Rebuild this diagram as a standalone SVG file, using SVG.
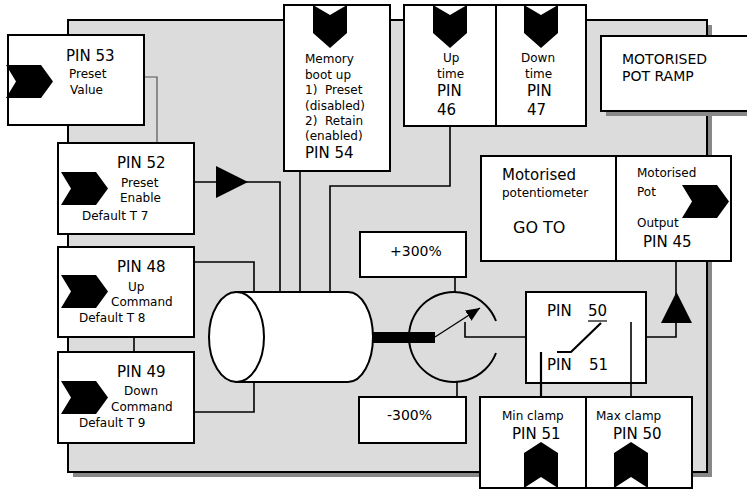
<svg xmlns="http://www.w3.org/2000/svg" width="747" height="489" viewBox="0 0 747 489">
<defs>
<style>
.bx{fill:#fff;stroke:#000;stroke-width:2}
.ln{fill:none;stroke:#000;stroke-width:1.6}
.s{font-family:"DejaVu Sans",Verdana,sans-serif;font-size:12px;fill:#000}
.b{font-family:"DejaVu Sans",Verdana,sans-serif;font-size:15px;fill:#000}
.m{font-family:"DejaVu Sans",Verdana,sans-serif;font-size:14px;fill:#000}
</style>
<path id="chR" d="M0,0 H35 L47,16.5 L35,33 H0 L10,16.5 Z" fill="#000"/>
<path id="chD" d="M0,0 L17,10 L34,0 V28 L17,43 L0,28 Z" fill="#000"/>
<path id="chU" d="M0,11 L17,0 L34,11 V46 L17,35 L0,46 Z" fill="#000"/>
<marker id="ah" viewBox="0 0 10 10" refX="10" refY="5" markerWidth="14" markerHeight="12" markerUnits="userSpaceOnUse" orient="auto" preserveAspectRatio="none">
<path d="M0,0 L10,5 L0,10 Z" fill="#000"/>
</marker>
</defs>

<g id="panel">
<rect x="73" y="25" width="639" height="452" fill="#888"/>
<rect x="68" y="20" width="639" height="452" fill="#dcdcdc" stroke="#000" stroke-width="2"/>
</g>

<g id="cylinder">
<path d="M236,292 H348 A25,45 0 0,1 348,382 H236 Z" fill="#fff" stroke="#000" stroke-width="2"/>
<ellipse cx="236.5" cy="337" rx="27.5" ry="45" fill="#fff" stroke="#000" stroke-width="2"/>
</g>

<g id="dial">
<path d="M496,321 A45,45 0 1,0 496,353" fill="none" stroke="#000" stroke-width="2"/>
</g>

<g id="pin53">
<rect class="bx" x="8" y="35" width="136" height="90"/>
<use href="#chR" x="6" y="65"/>
<text class="b" x="66" y="61">PIN 53</text>
<text class="s" x="69" y="78">Preset</text>
<text class="s" x="70" y="94">Value</text>
</g>

<g id="pin52">
<rect class="bx" x="58" y="143" width="136" height="91"/>
<use href="#chR" x="61" y="172"/>
<text class="b" x="117" y="168">PIN 52</text>
<text class="s" x="121" y="187">Preset</text>
<text class="s" x="120" y="202">Enable</text>
<text class="s" x="82" y="220">Default T 7</text>
</g>

<g id="pin48">
<rect class="bx" x="58" y="247" width="136" height="90"/>
<use href="#chR" x="61" y="275"/>
<text class="b" x="117" y="272">PIN 48</text>
<text class="s" x="128" y="291">Up</text>
<text class="s" x="111" y="306">Command</text>
<text class="s" x="79" y="322">Default T 8</text>
</g>

<g id="pin49">
<rect class="bx" x="58" y="352" width="136" height="91"/>
<use href="#chR" x="61" y="381"/>
<text class="b" x="117" y="377">PIN 49</text>
<text class="s" x="124" y="395">Down</text>
<text class="s" x="111" y="411">Command</text>
<text class="s" x="79" y="427">Default T 9</text>
</g>

<g id="memory">
<rect class="bx" x="284" y="5" width="106" height="166"/>
<use href="#chD" x="313" y="5"/>
<text class="s" x="305" y="63">Memory</text>
<text class="s" x="305" y="79">boot up</text>
<text class="s" x="305" y="94" xml:space="preserve">1)  Preset</text>
<text class="s" x="305" y="110">(disabled)</text>
<text class="s" x="305" y="125" xml:space="preserve">2)  Retain</text>
<text class="s" x="305" y="140">(enabled)</text>
<text class="b" x="305" y="158">PIN 54</text>
</g>

<g id="uptime">
<rect class="bx" x="404" y="5" width="92" height="121"/>
<use href="#chD" x="433" y="5"/>
<text class="s" x="443" y="62">Up</text>
<text class="s" x="437" y="78">time</text>
<text class="b" x="437" y="96">PIN</text>
<text class="b" x="437" y="115">46</text>
</g>

<g id="downtime">
<rect class="bx" x="496" y="5" width="90" height="121"/>
<use href="#chD" x="524" y="5"/>
<text class="s" x="521" y="62">Down</text>
<text class="s" x="525" y="78">time</text>
<text class="b" x="527" y="96">PIN</text>
<text class="b" x="527" y="115">47</text>
</g>

<g id="title">
<rect x="606" y="41" width="150" height="75" fill="#888"/>
<rect class="bx" x="601" y="36" width="150" height="75"/>
<text class="m" x="622" y="64">MOTORISED</text>
<text class="m" x="622" y="81">POT RAMP</text>
</g>

<g id="goto">
<rect class="bx" x="481" y="156" width="135" height="105"/>
<text class="b" x="502" y="180">Motorised</text>
<text class="s" x="502" y="197">potentiometer</text>
<text class="b" x="513" y="233" style="font-size:16px">GO TO</text>
</g>

<g id="output">
<rect class="bx" x="616" y="156" width="115" height="105"/>
<text class="s" x="637" y="177">Motorised</text>
<text class="s" x="637" y="196">Pot</text>
<use href="#chR" x="682" y="185"/>
<text class="s" x="637" y="227">Output</text>
<text class="b" x="643" y="247">PIN 45</text>
</g>

<g id="plus300">
<rect class="bx" x="360" y="232" width="106" height="45"/>
<text class="m" x="390" y="256">+300%</text>
</g>

<g id="minus300">
<rect class="bx" x="359" y="397" width="107" height="46"/>
<text class="m" x="387" y="420">-300%</text>
</g>

<g id="clampsel">
<rect class="bx" x="526" y="292" width="120" height="91"/>
<text class="b" x="547" y="316">PIN</text>
<text class="b" x="588" y="316">50</text>
<line x1="588" y1="321" x2="607" y2="321" stroke="#000" stroke-width="1.2"/>
<text class="b" x="547" y="370">PIN</text>
<text class="b" x="589" y="370">51</text>
</g>

<g id="minclamp">
<rect class="bx" x="480" y="397" width="106" height="91"/>
<text class="s" x="502" y="420">Min clamp</text>
<text class="b" x="512" y="439">PIN 51</text>
<use href="#chU" x="524" y="442"/>
</g>

<g id="maxclamp">
<rect class="bx" x="586" y="397" width="106" height="91"/>
<text class="s" x="596" y="420">Max clamp</text>
<text class="b" x="613" y="439">PIN 50</text>
<use href="#chU" x="614" y="442"/>
</g>

<g id="connectors">
<path d="M145,77 H157 V142" fill="none" stroke="#555" stroke-width="1.2"/>
<path class="ln" d="M195,182 H280 V292"/>
<polygon points="216,166 248,182 216,198" fill="#000"/>
<path class="ln" d="M300,172 V292"/>
<path class="ln" d="M450,127 V186 H330 V292"/>
<path class="ln" d="M195,262 H254 V292"/>
<path class="ln" d="M195,412 H254 V382"/>
<path class="ln" d="M134,338 V351"/>
<rect x="373" y="332" width="62" height="11" fill="#000"/>
<path d="M435,337 L480,308" stroke="#000" stroke-width="1.3" marker-end="url(#ah)"/>
<path class="ln" d="M455,278 V292"/>
<path class="ln" d="M457,382 V396"/>
<path class="ln" d="M465,322 V337 H525"/>
<path class="ln" d="M647,337 H676 V262"/>
<polygon points="661,323 692,323 676.5,292" fill="#000"/>
<path d="M557,352 H571 L601,323" fill="none" stroke="#000" stroke-width="2.2"/>
<path d="M541,352 V396" fill="none" stroke="#000" stroke-width="2.2"/>
<path class="ln" d="M631,322 V396"/>
</g>
</svg>
